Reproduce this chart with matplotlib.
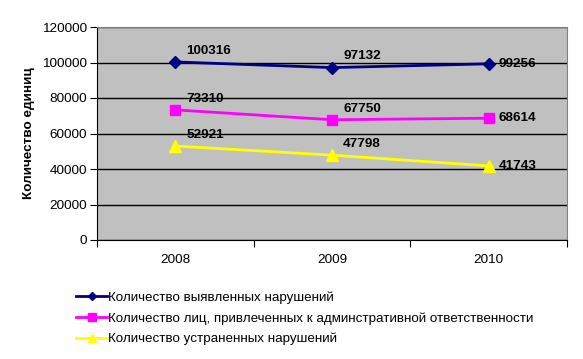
import matplotlib
matplotlib.use("Agg")
import matplotlib.pyplot as plt

years = ["2008", "2009", "2010"]
detected = [100316, 97132, 99256]
persons = [73310, 67750, 68614]
eliminated = [52921, 47798, 41743]
labels = ["Количество выявленных нарушений",
          "Количество лиц, привлеченных к админстративной ответственности",
          "Количество устраненных нарушений"]
yticks = [0, 20000, 40000, 60000, 80000, 100000, 120000]

plt.rcParams['font.family'] = ['Liberation Sans', 'DejaVu Sans']

fig = plt.figure(figsize=(5.83, 3.59), dpi=100)
ax = fig.add_axes([97/583, 1-240/359, 470/583, 213/359])
ax.set_facecolor('#C0C0C0')

x = list(range(len(years)))
series = [
    (detected, '#000080', 'D', 6),
    (persons, '#FF00FF', 's', 7),
    (eliminated, '#FFFF00', '^', 8),
]
handles = []
for (vals, col, mk, ms), lab in zip(series, labels):
    h, = ax.plot(x, vals, color=col, marker=mk, markersize=ms, lw=2, label=lab, zorder=3)
    handles.append(h)
    for i, v in enumerate(vals):
        if i == len(vals) - 1:
            ax.annotate(str(v), (i, v), xytext=(7, 0), textcoords='offset points',
                        ha='left', va='center', fontsize=9.7, fontweight='bold')
        else:
            ax.annotate(str(v), (i, v), xytext=(8, 8), textcoords='offset points',
                        ha='left', va='center', fontsize=9.7, fontweight='bold')

ax.set_xlim(-0.5, 2.5)
ax.set_ylim(0, 120000)
ax.set_yticks(yticks)
ax.set_yticklabels([str(t) for t in yticks], fontsize=9.7)
ax.yaxis.grid(True, color='black', lw=1)
ax.set_axisbelow(True)

ax.set_xticks([-0.5, 0.5, 1.5, 2.5])
ax.set_xticklabels([])
ax.set_xticks(x, minor=True)
ax.set_xticklabels(years, minor=True, fontsize=9.7)
ax.tick_params(axis='x', which='minor', length=0, pad=10)
ax.tick_params(axis='x', which='major', length=5, direction='out', color='black')
ax.tick_params(axis='y', length=5, direction='out', pad=2)

for s in ['top', 'right']:
    ax.spines[s].set_color('#808080')
for s in ['left', 'bottom']:
    ax.spines[s].set_color('black')

ax.set_ylabel("Количество единиц", fontsize=9.7, fontweight='bold', labelpad=5)

leg = fig.legend(handles=handles, labels=labels, loc='upper left',
                 bbox_to_anchor=(71/583, 1-286/359), frameon=False, fontsize=9.6,
                 handlelength=2.3, handletextpad=0.1, labelspacing=0.62,
                 borderaxespad=0, markerscale=0.75)

fig.savefig("out.png", dpi=100, facecolor='white')
